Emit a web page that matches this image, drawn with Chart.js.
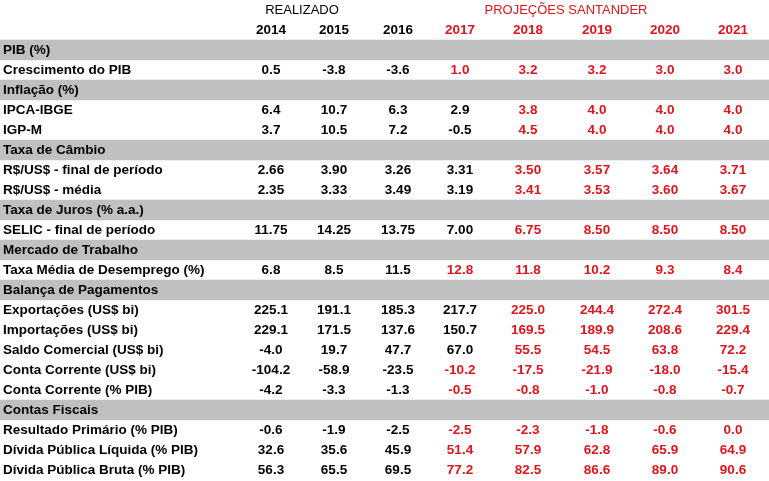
<!DOCTYPE html>
<html>
<head>
<meta charset="utf-8">
<script src="https://cdn.jsdelivr.net/npm/chart.js@4"></script>
<style>
  html, body { margin: 0; padding: 0; background: #fff; }
  #wrap { width: 769px; height: 480px; }
</style>
</head>
<body>
<div id="wrap"><canvas id="tabela"></canvas></div>
<script>
// columns
const years = ['2014', '2015', '2016', '2017', '2018', '2019', '2020', '2021'];

// section headers (gray rows)
const sectionNames = ['PIB (%)', 'Inflação (%)', 'Taxa de Câmbio', 'Taxa de Juros (% a.a.)',
  'Mercado de Trabalho', 'Balança de Pagamentos', 'Contas Fiscais'];

// series rows
const seriesNames = ['Crescimento do PIB', 'IPCA-IBGE', 'IGP-M', 'R$/US$ - final de período',
  'R$/US$ - média', 'SELIC - final de período', 'Taxa Média de Desemprego (%)',
  'Exportações (US$ bi)', 'Importações (US$ bi)', 'Saldo Comercial (US$ bi)',
  'Conta Corrente (US$ bi)', 'Conta Corrente (% PIB)', 'Resultado Primário (% PIB)',
  'Dívida Pública Líquida (% PIB)', 'Dívida Pública Bruta (% PIB)'];
const seriesSection = [0, 1, 1, 2, 2, 3, 4, 5, 5, 5, 5, 5, 6, 6, 6];
const seriesDecimals = [1, 1, 1, 2, 2, 2, 1, 1, 1, 1, 1, 1, 1, 1, 1];
// true when the 2017 value was already realized (shown in black)
const realizado2017 = [false, true, true, true, true, true, false, true, true, true, false, false, false, false, false];

const crescimentoPib = [0.5, -3.8, -3.6, 1.0, 3.2, 3.2, 3.0, 3.0];
const ipca = [6.4, 10.7, 6.3, 2.9, 3.8, 4.0, 4.0, 4.0];
const igpm = [3.7, 10.5, 7.2, -0.5, 4.5, 4.0, 4.0, 4.0];
const cambioFinal = [2.66, 3.90, 3.26, 3.31, 3.50, 3.57, 3.64, 3.71];
const cambioMedia = [2.35, 3.33, 3.49, 3.19, 3.41, 3.53, 3.60, 3.67];
const selic = [11.75, 14.25, 13.75, 7.00, 6.75, 8.50, 8.50, 8.50];
const desemprego = [6.8, 8.5, 11.5, 12.8, 11.8, 10.2, 9.3, 8.4];
const exportacoes = [225.1, 191.1, 185.3, 217.7, 225.0, 244.4, 272.4, 301.5];
const importacoes = [229.1, 171.5, 137.6, 150.7, 169.5, 189.9, 208.6, 229.4];
const saldoComercial = [-4.0, 19.7, 47.7, 67.0, 55.5, 54.5, 63.8, 72.2];
const contaCorrenteUs = [-104.2, -58.9, -23.5, -10.2, -17.5, -21.9, -18.0, -15.4];
const contaCorrentePib = [-4.2, -3.3, -1.3, -0.5, -0.8, -1.0, -0.8, -0.7];
const resultadoPrimario = [-0.6, -1.9, -2.5, -2.5, -2.3, -1.8, -0.6, 0.0];
const dividaLiquida = [32.6, 35.6, 45.9, 51.4, 57.9, 62.8, 65.9, 64.9];
const dividaBruta = [56.3, 65.5, 69.5, 77.2, 82.5, 86.6, 89.0, 90.6];

const seriesValues = [crescimentoPib, ipca, igpm, cambioFinal, cambioMedia, selic, desemprego,
  exportacoes, importacoes, saldoComercial, contaCorrenteUs, contaCorrentePib,
  resultadoPrimario, dividaLiquida, dividaBruta];

// layout (x axis runs in page pixels)
const X_MIN = 0, X_MAX = 769;
const colX = [271, 334, 398, 460, 528, 597, 665, 733];
const labelX = 3;
const BLACK = '#000000', RED = '#e3131b', GRAY = '#c0c0c0';
const FONT = '"Liberation Sans", Arial, sans-serif';

// build row list: 2 header rows, then sections + series
const rows = [{ kind: 'top' }, { kind: 'years' }];
let lastSection = -1;
seriesNames.forEach((name, i) => {
  if (seriesSection[i] !== lastSection) {
    rows.push({ kind: 'section', label: sectionNames[seriesSection[i]] });
    lastSection = seriesSection[i];
  }
  rows.push({ kind: 'serie', label: name, idx: i });
});

const tablePlugin = {
  id: 'tableText',
  afterDatasetsDraw(chart) {
    const { ctx, scales: { x, y } } = chart;
    ctx.save();
    ctx.textBaseline = 'middle';
    rows.forEach((r, i) => {
      const py = y.getPixelForValue(i) + 0.5;
      if (r.kind === 'top') {
        ctx.font = '13px ' + FONT;
        ctx.textAlign = 'center';
        ctx.fillStyle = BLACK;
        ctx.fillText('REALIZADO', x.getPixelForValue(302), py);
        ctx.fillStyle = RED;
        ctx.fillText('PROJEÇÕES SANTANDER', x.getPixelForValue(566), py);
      } else if (r.kind === 'years') {
        ctx.font = 'bold 13.5px ' + FONT;
        ctx.textAlign = 'center';
        years.forEach((yr, j) => {
          ctx.fillStyle = j < 3 ? BLACK : RED;
          ctx.fillText(yr, x.getPixelForValue(colX[j]), py);
        });
      } else {
        ctx.font = 'bold 13.5px ' + FONT;
        ctx.textAlign = 'left';
        ctx.fillStyle = BLACK;
        ctx.fillText(r.label, x.getPixelForValue(labelX), py);
        if (r.kind === 'serie') {
          const vals = seriesValues[r.idx];
          const dec = seriesDecimals[r.idx];
          const firstRed = realizado2017[r.idx] ? 4 : 3;
          ctx.textAlign = 'center';
          vals.forEach((v, j) => {
            ctx.fillStyle = j < firstRed ? BLACK : RED;
            ctx.fillText(v.toFixed(dec), x.getPixelForValue(colX[j]), py);
          });
        }
      }
    });
    ctx.restore();
  }
};

new Chart(document.getElementById('tabela').getContext('2d'), {
  type: 'bar',
  data: {
    labels: rows.map((r, i) => r.label || String(i)),
    datasets: [{
      data: rows.map(r => r.kind === 'section' ? [X_MIN, X_MAX] : null),
      backgroundColor: GRAY,
      borderWidth: 0,
      barPercentage: 1,
      categoryPercentage: 1
    }]
  },
  options: {
    indexAxis: 'y',
    responsive: true,
    maintainAspectRatio: false,
    animation: false,
    layout: { padding: 0 },
    plugins: { legend: { display: false }, tooltip: { enabled: false } },
    scales: {
      x: { type: 'linear', min: X_MIN, max: X_MAX, display: false },
      y: { display: false, offset: true }
    }
  },
  plugins: [tablePlugin]
});
</script>
</body>
</html>
